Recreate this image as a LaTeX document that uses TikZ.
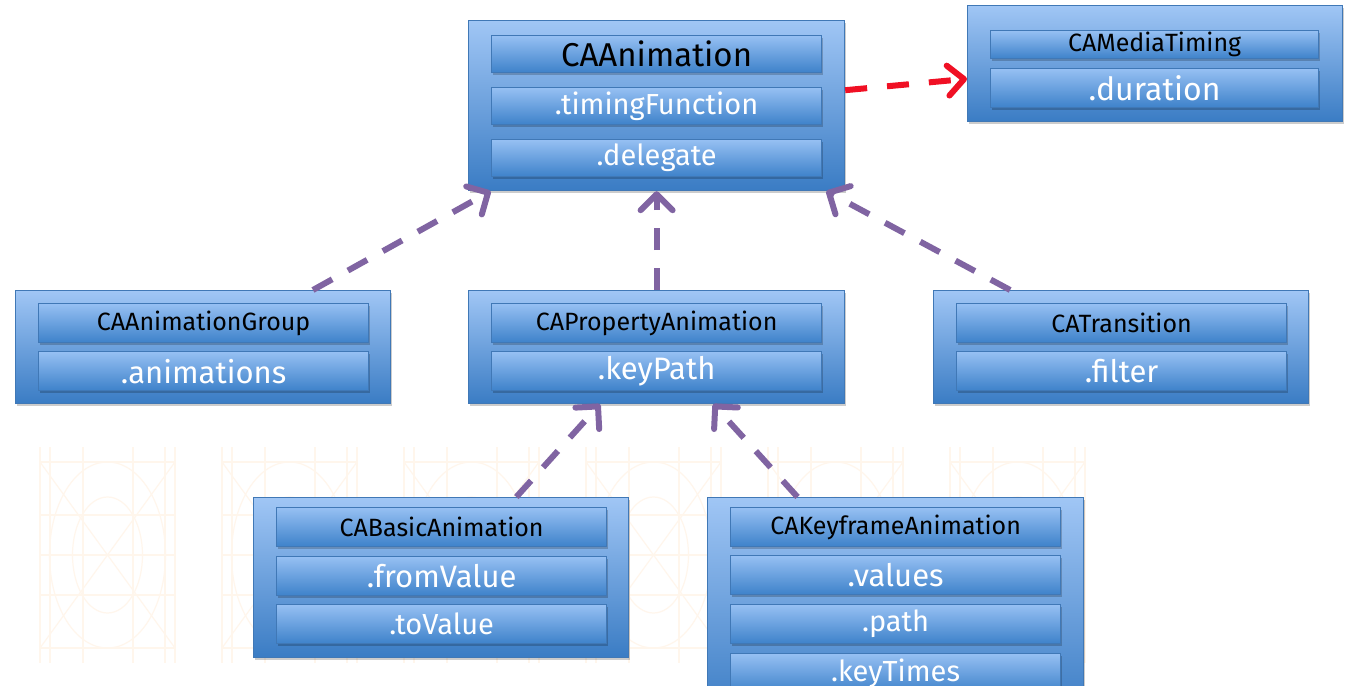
\documentclass[tikz,border=0pt]{standalone}
\usepackage{fontspec}
\setmainfont{Fira Sans}
\usetikzlibrary{arrows.meta,shadows,calc}
\definecolor{outerTop}{RGB}{160,198,245}
\definecolor{outerBot}{RGB}{58,124,196}
\definecolor{rowTop}{RGB}{150,192,243}
\definecolor{rowBot}{RGB}{62,130,202}
\definecolor{boxborder}{RGB}{64,120,182}
\definecolor{purp}{RGB}{128,100,162}
\definecolor{redc}{RGB}{240,16,36}
\definecolor{bgline}{RGB}{255,246,236}
\begin{document}
\begin{tikzpicture}[x=0.5pt,y=-0.5pt,
  shad/.style={drop shadow={shadow xshift=0.8pt,shadow yshift=-1.2pt,opacity=0.2,fill=black}},
  outerbox/.style={draw=boxborder,line width=0.6pt,top color=outerTop,bottom color=outerBot,shad,anchor=north west,inner sep=0pt,minimum width=188pt},
  rowbox/.style={draw=boxborder,line width=0.6pt,top color=rowTop,bottom color=rowBot,shad,anchor=north west,inner sep=0pt,minimum width=165pt,minimum height=19.5pt},
  hdr/.style={rowbox,text=black,font=\fontsize{12.5}{14}\selectfont},
  attr/.style={rowbox,text=white,font=\fontsize{15.5}{17}\selectfont},
  inh/.style={draw=purp,line width=3pt,dash pattern=on 11pt off 9pt,-{Straight Barb[length=8pt,width=16pt,round]}},
  dep/.style={draw=redc,line width=3pt,dash pattern=on 11pt off 10pt,-{Straight Barb[length=8pt,width=15pt,round]}}
]
\useasboundingbox (0,0) rectangle (1356,686);
\fill[white] (0,0) rectangle (1356,686);
\clip (0,0) rectangle (1356,686);

% faint background pattern
\foreach \t in {40,222,404,586,768,950}{
  \begin{scope}[draw=bgline,line width=0.6pt]
    \foreach \yy in {462,515,555,595,648} \draw (\t,\yy) -- ++(135,0);
    \foreach \xx in {0,10,43,93,125,135} \draw (\t+\xx,447) -- (\t+\xx,663);
    \draw (\t,462) -- (\t+135,648);
    \draw (\t+135,462) -- (\t,648);
    \draw (\t+67.5,555) ellipse [x radius=58,y radius=93];
    \draw (\t+67.5,555) ellipse [x radius=35,y radius=58];
  \end{scope}
}

% CAAnimation
\node[outerbox,minimum height=85pt] (anim) at (468,20) {};
\node[hdr,minimum height=18.5pt,font=\fontsize{16.5}{18}\selectfont] (animA) at (491,35) {CAAnimation};
\node[attr,minimum height=18.5pt,font=\fontsize{14.5}{17}\selectfont] (animB) at (491,87) {.timingFunction};
\node[attr,minimum height=18.5pt,font=\fontsize{14.5}{17}\selectfont] (animC) at (491,139) {.delegate};

% CAMediaTiming
\node[outerbox,minimum width=187.5pt,minimum height=58pt] (timing) at (967,5) {};
\node[hdr,minimum width=164pt,minimum height=14pt,font=\fontsize{12.5}{14}\selectfont] (timingA) at (990,30) {CAMediaTiming};
\node[attr,minimum width=164pt,minimum height=19.5pt,font=\fontsize{16}{18}\selectfont] (timingB) at (990,68) {.duration};

% CAAnimationGroup
\node[outerbox,minimum width=187.5pt,minimum height=56.5pt] (grp) at (15,290) {};
\node[hdr] (grpA) at (38,303) {CAAnimationGroup};
\node[attr] (grpB) at (38,351) {.animations};

% CAPropertyAnimation
\node[outerbox,minimum height=56.5pt] (prop) at (468,290) {};
\node[hdr] (propA) at (491,303) {CAPropertyAnimation};
\node[attr] (propB) at (491,351) {.keyPath};

% CATransition
\node[outerbox,minimum width=187.5pt,minimum height=56.5pt] (trans) at (933,290) {};
\node[hdr] (transA) at (956,303) {CATransition};
\node[attr] (transB) at (956,351) {.filter};

% CABasicAnimation
\node[outerbox,minimum width=187.5pt,minimum height=80pt] (basic) at (253,497) {};
\node[hdr] (basicA) at (276,507) {CABasicAnimation};
\node[attr] (basicB) at (276,556) {.fromValue};
\node[attr,font=\fontsize{14.5}{17}\selectfont] (basicC) at (276,604) {.toValue};

% CAKeyframeAnimation
\node[outerbox,minimum height=110pt] (key) at (707,497) {};
\node[hdr] (keyA) at (730,507) {CAKeyframeAnimation};
\node[attr] (keyB) at (730,555) {.values};
\node[attr,font=\fontsize{14.5}{17}\selectfont] (keyC) at (730,604) {.path};
\node[attr,font=\fontsize{14.5}{17}\selectfont] (keyD) at (730,653) {.keyTimes};

% connectors
\draw[dep] ($(anim.north east)!0.41!(anim.south east)$) -- ($(timing.north west)!0.63!(timing.south west)$);
\draw[inh] ($(grp.north west)!0.792!(grp.north east)$) -- ($(anim.south west)!0.06!(anim.south east)$);
\draw[inh] (prop.north) -- (anim.south);
\draw[inh] ($(trans.north west)!0.205!(trans.north east)$) -- ($(anim.south west)!0.95!(anim.south east)$);
\draw[inh] ($(basic.north west)!0.70!(basic.north east)$) -- ($(prop.south west)!0.35!(prop.south east)$);
\draw[inh] ($(key.north west)!0.24!(key.north east)$) -- ($(prop.south west)!0.65!(prop.south east)$);
\end{tikzpicture}
\end{document}
